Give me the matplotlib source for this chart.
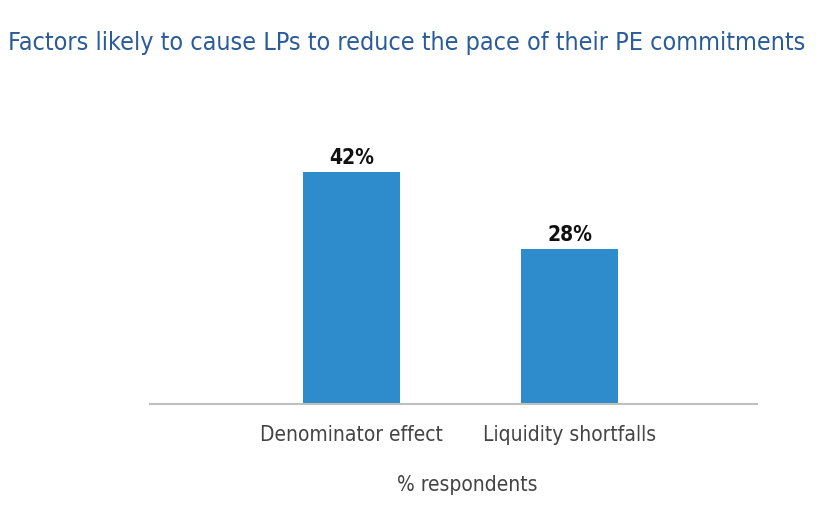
import matplotlib
matplotlib.use('Agg')
import matplotlib.pyplot as plt
from matplotlib import font_manager

names = {f.name for f in font_manager.fontManager.ttflist}
FONT = 'Liberation Sans Narrow' if 'Liberation Sans Narrow' in names else 'DejaVu Sans'
plt.rcParams['font.family'] = [FONT, 'DejaVu Sans']
plt.rcParams['font.stretch'] = 'condensed'

categories = ["Denominator effect", "Liquidity shortfalls"]
values = [42, 28]
value_labels = ["42%", "28%"]

TITLE = "Factors likely to cause LPs to reduce the pace of their PE commitments"
XLABEL = "% respondents"

fig = plt.figure(figsize=(8.26, 5.11), dpi=100)
ax = fig.add_axes([0.1816, 0.2094, 0.7349, 0.5949])

x = list(range(len(categories)))
ax.bar(x, values, width=0.444, color='#2e8bcc', zorder=2)
for xi, v, lab in zip(x, values, value_labels):
    ax.text(xi, v + 0.7, lab, ha='center', va='bottom', fontsize=15,
            color='#111111', fontweight='semibold')

ax.set_xlim(-0.922, 1.856)
ax.set_ylim(0, 55)
ax.set_xticks(x)
ax.set_xticklabels(categories, fontsize=15, color='#444444')
ax.tick_params(axis='x', length=0, pad=15)
ax.set_yticks([])
for s in ['top', 'right', 'left']:
    ax.spines[s].set_visible(False)
ax.spines['bottom'].set_color('#bfbfbf')
ax.spines['bottom'].set_linewidth(1.5)
ax.set_xlabel(XLABEL, fontsize=15, color='#444444', labelpad=22)
ax.xaxis.label.set_x(0.522)

fig.text(0.01, 0.915, TITLE, fontsize=18, color='#2a5b9a', ha='left', va='center')

fig.savefig('out.png', dpi=100)
